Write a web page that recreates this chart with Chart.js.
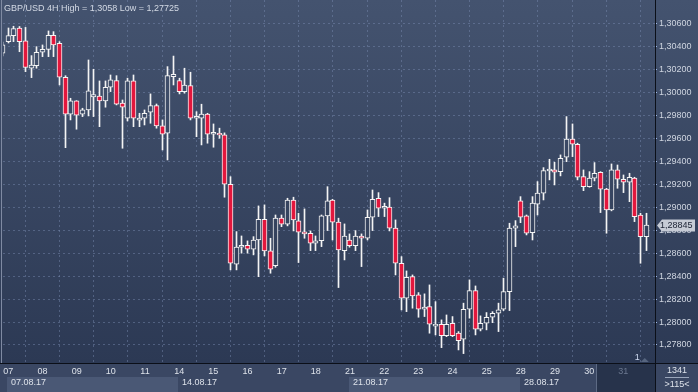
<!DOCTYPE html>
<html>
<head>
<meta charset="utf-8">
<script src="https://cdn.jsdelivr.net/npm/chart.js@4.4.1/dist/chart.umd.min.js"></script>
<style>
  html, body { margin: 0; padding: 0; background: #2d3a56; overflow: hidden; }
  #wrap { width: 698px; height: 392px; }
</style>
</head>
<body>
<div id="wrap"><canvas id="c" width="698" height="392"></canvas></div>
<script>
// GBP/USD 4H, bar index 0 = first bar of 07.08.17 (6 bars per day), first entry is bar -1
const FIRST_BAR = -1;
const opens = [
  1.30345, 1.30446, 1.30498, 1.30565, 1.30452, 1.30214, 1.30236, 1.30353, 1.30379, 1.30501,
  1.30432, 1.30135, 1.29813, 1.29929, 1.29813, 1.29850, 1.29963, 1.29972, 1.29929, 1.30048,
  1.30106, 1.29909, 1.29778, 1.30103, 1.29760, 1.29778, 1.29830, 1.29888, 1.29711, 1.29647,
  1.30140, 1.30106, 1.30010, 1.30062, 1.29778, 1.29778, 1.29813, 1.29638, 1.29647, 1.29632,
  1.29202, 1.28505, 1.28653, 1.28670, 1.28635, 1.28716, 1.28897, 1.28621, 1.28492, 1.28906,
  1.28853, 1.29065, 1.28882, 1.28786, 1.28775, 1.28688, 1.28710, 1.28926, 1.29065, 1.28871,
  1.28623, 1.28716, 1.28667, 1.28750, 1.28731, 1.28914, 1.29080, 1.28993, 1.29002, 1.28819,
  1.28513, 1.28208, 1.28396, 1.28237, 1.28112, 1.28135, 1.27965, 1.27981, 1.27882, 1.27990,
  1.27903, 1.27851, 1.28112, 1.28274, 1.27938, 1.27990, 1.28042, 1.28077, 1.28112, 1.28266,
  1.28819, 1.29057, 1.28926, 1.28780, 1.29028, 1.29124, 1.29318, 1.29327, 1.29312, 1.29438,
  1.29595, 1.29551, 1.29268, 1.29181, 1.29255, 1.29307, 1.29159, 1.28978, 1.29327, 1.29246,
  1.29220, 1.29255, 1.28934, 1.28745
];
const highs = [
  1.30443, 1.30565, 1.30580, 1.30578, 1.30570, 1.30324, 1.30402, 1.30417, 1.30539, 1.30533,
  1.30446, 1.30149, 1.29952, 1.29931, 1.29865, 1.30286, 1.30205, 1.30103, 1.30103, 1.30155,
  1.30149, 1.29937, 1.30127, 1.30155, 1.29821, 1.29850, 1.29990, 1.29902, 1.29763, 1.30228,
  1.30320, 1.30127, 1.30214, 1.30179, 1.29835, 1.29900, 1.29821, 1.29728, 1.29691, 1.29650,
  1.29268, 1.28789, 1.28751, 1.28708, 1.28745, 1.29013, 1.29022, 1.28731, 1.28934, 1.28934,
  1.29080, 1.29089, 1.28949, 1.28987, 1.28795, 1.28751, 1.28934, 1.29181, 1.29071, 1.28906,
  1.28856, 1.28769, 1.28798, 1.28769, 1.28978, 1.29152, 1.29129, 1.29037, 1.29085, 1.28891,
  1.28571, 1.28446, 1.28411, 1.28257, 1.28246, 1.28324, 1.28178, 1.28019, 1.28062, 1.28048,
  1.27917, 1.28165, 1.28368, 1.28315, 1.28054, 1.28083, 1.28091, 1.28165, 1.28383, 1.28862,
  1.28885, 1.29094, 1.28934, 1.29094, 1.29225, 1.29347, 1.29420, 1.29394, 1.29458, 1.29792,
  1.29728, 1.29560, 1.29327, 1.29312, 1.29391, 1.29312, 1.29167, 1.29379, 1.29370, 1.29283,
  1.29298, 1.29263, 1.28949, 1.28949
];
const lows = [
  1.30321, 1.30434, 1.30446, 1.30358, 1.30184, 1.30132, 1.30214, 1.30315, 1.30315, 1.30315,
  1.30068, 1.29521, 1.29763, 1.29682, 1.29792, 1.29798, 1.29792, 1.29704, 1.29874, 1.30010,
  1.29894, 1.29516, 1.29754, 1.29704, 1.29704, 1.29719, 1.29734, 1.29691, 1.29501, 1.29414,
  1.30068, 1.29990, 1.29996, 1.29763, 1.29617, 1.29545, 1.29560, 1.29525, 1.29603, 1.29089,
  1.28455, 1.28455, 1.28601, 1.28601, 1.28586, 1.28396, 1.28577, 1.28426, 1.28478, 1.28832,
  1.28839, 1.28795, 1.28519, 1.28731, 1.28623, 1.28623, 1.28658, 1.28798, 1.28716, 1.28301,
  1.28542, 1.28653, 1.28623, 1.28484, 1.28716, 1.28798, 1.28920, 1.28920, 1.28795, 1.28411,
  1.28106, 1.28091, 1.28121, 1.28042, 1.28048, 1.27903, 1.27888, 1.27777, 1.27873, 1.27873,
  1.27757, 1.27725, 1.28034, 1.27888, 1.27923, 1.27932, 1.27995, 1.27917, 1.28100, 1.28100,
  1.28658, 1.28867, 1.28760, 1.28716, 1.28934, 1.29065, 1.29240, 1.29196, 1.29275, 1.29399,
  1.29443, 1.29240, 1.29146, 1.29176, 1.29231, 1.28955, 1.28775, 1.28970, 1.29167, 1.29129,
  1.29050, 1.28876, 1.28513, 1.28623
];
const closes = [
  1.30417, 1.30498, 1.30560, 1.30446, 1.30222, 1.30242, 1.30353, 1.30379, 1.30501, 1.30417,
  1.30135, 1.29813, 1.29929, 1.29804, 1.29850, 1.30016, 1.29985, 1.29929, 1.30048, 1.30112,
  1.29900, 1.29874, 1.30103, 1.29778, 1.29780, 1.29821, 1.29888, 1.29711, 1.29638, 1.30149,
  1.30160, 1.30010, 1.30068, 1.29778, 1.29795, 1.29813, 1.29638, 1.29655, 1.29632, 1.29202,
  1.28513, 1.28653, 1.28670, 1.28635, 1.28716, 1.28897, 1.28621, 1.28461, 1.28906, 1.28853,
  1.29065, 1.28891, 1.28784, 1.28769, 1.28688, 1.28708, 1.28926, 1.29057, 1.28871, 1.28629,
  1.28751, 1.28667, 1.28751, 1.28731, 1.28914, 1.29071, 1.28993, 1.29010, 1.28819, 1.28513,
  1.28208, 1.28391, 1.28228, 1.28112, 1.28130, 1.27981, 1.27981, 1.27882, 1.27981, 1.27882,
  1.27838, 1.28112, 1.28274, 1.27938, 1.27990, 1.28042, 1.28077, 1.28106, 1.28266, 1.28819,
  1.28839, 1.28914, 1.28775, 1.29037, 1.29124, 1.29321, 1.29335, 1.29307, 1.29429, 1.29595,
  1.29551, 1.29263, 1.29181, 1.29255, 1.29298, 1.29159, 1.28978, 1.29327, 1.29246, 1.29220,
  1.29263, 1.28920, 1.28745, 1.28845
];
const dayLabels = ['07','08','09','10','11','14','15','16','17','18','21','22','23','24','25','28','29','30','31'];
const weekLabels = ['07.08.17','14.08.17','21.08.17','28.08.17'];
const title = 'GBP/USD 4H High = 1,3058 Low = 1,27725';
const barsCount = '1341';
const shownCount = '>115<';

const FONT = '"Liberation Sans", Arial, sans-serif';
const dayStarts = dayLabels.map((d, k) => k * 6);
const weekStarts = weekLabels.map((w, k) => k * 30);
const bars = opens.map((o, k) => ({ i: FIRST_BAR + k, o, h: highs[k], l: lows[k], c: closes[k] }));
const fmt = v => v.toFixed(5).replace('.', ',');

let grad;
function bgGrad(chart) {
  if (!grad) {
    grad = chart.ctx.createLinearGradient(0, 0, 0, 363);
    grad.addColorStop(0, '#44536f');
    grad.addColorStop(1, '#2c3954');
  }
  return grad;
}

// snap candles to whole pixels so wicks and bodies stay crisp
const snap = {
  id: 'snap',
  beforeDatasetsDraw(chart) {
    chart.data.datasets.forEach((ds, d) => {
      chart.getDatasetMeta(d).data.forEach(el => { el.x = Math.floor(el.x) + 0.5; });
    });
  }
};

const decor = {
  id: 'decor',
  beforeDraw(chart) {
    const ctx = chart.ctx, x = chart.scales.x;
    ctx.save();
    ctx.fillStyle = bgGrad(chart);
    ctx.fillRect(0, 0, 698, 363);
    ctx.fillStyle = '#3a4763';
    ctx.fillRect(0, 363, 698, 29);
    // week boxes
    weekStarts.forEach((s, k) => {
      const x0 = Math.round(x.getPixelForValue(s)) - 1;
      const x1 = k + 1 < weekStarts.length ? Math.round(x.getPixelForValue(weekStarts[k + 1])) - 1 : 597;
      if (k % 2 === 0) { ctx.fillStyle = '#4a5875'; ctx.fillRect(x0, 377, x1 - x0, 15); }
    });
    // current day block
    ctx.fillStyle = '#27334b';
    ctx.fillRect(597, 364, 58, 28);
    ctx.fillStyle = '#5d6a84';
    ctx.fillRect(596, 364, 1, 28);
    ctx.restore();
  },
  afterDraw(chart) {
    const ctx = chart.ctx, x = chart.scales.x, y = chart.scales.y;
    ctx.save();
    // frame
    ctx.strokeStyle = '#0b0f18';
    ctx.lineWidth = 1;
    ctx.beginPath();
    ctx.moveTo(0, 363.5); ctx.lineTo(698, 363.5);
    ctx.moveTo(655.5, 0); ctx.lineTo(655.5, 392);
    ctx.stroke();
    ctx.strokeStyle = '#7f8aa2';
    ctx.beginPath(); ctx.moveTo(1.5, 0); ctx.lineTo(1.5, 363); ctx.stroke();

    ctx.font = '9px ' + FONT;
    ctx.textBaseline = 'middle';
    // week labels
    ctx.fillStyle = '#dde2ea';
    ctx.textAlign = 'left';
    weekStarts.forEach((s, k) => {
      ctx.fillText(weekLabels[k], Math.round(x.getPixelForValue(s)) + 3, 383);
    });
    // title
    ctx.fillStyle = '#d3d9e4';
    ctx.textBaseline = 'alphabetic';
    ctx.fillText(title, 4, 11);
    // bar counters
    ctx.textAlign = 'center';
    ctx.textBaseline = 'middle';
    ctx.fillStyle = '#dde2ea';
    ctx.fillText(barsCount, 677, 371);
    ctx.fillText(shownCount, 677, 385);
    ctx.strokeStyle = '#9aa6bb';
    ctx.beginPath(); ctx.moveTo(665, 377.5); ctx.lineTo(689, 377.5); ctx.stroke();
    // marker
    const mx = x.getPixelForValue(110);
    ctx.textAlign = 'left';
    ctx.fillStyle = '#cfdaf0';
    ctx.fillText('1', mx, 358);
    ctx.fillStyle = '#56657f';
    ctx.beginPath(); ctx.moveTo(mx + 6, 362); ctx.lineTo(mx + 14, 362); ctx.lineTo(mx + 10, 358); ctx.closePath(); ctx.fill();
    // last price tag
    const last = closes[closes.length - 1];
    const py = Math.round(y.getPixelForValue(last));
    ctx.fillStyle = '#c6cbd5';
    ctx.beginPath();
    ctx.moveTo(657, py + 0.5); ctx.lineTo(662, py - 5.5); ctx.lineTo(695, py - 5.5);
    ctx.lineTo(695, py + 6.5); ctx.lineTo(662, py + 6.5); ctx.closePath(); ctx.fill();
    ctx.fillStyle = '#1b2233';
    ctx.fillText(fmt(last), 660, py + 1);
    ctx.restore();
  }
};

new Chart(document.getElementById('c'), {
  type: 'bar',
  data: {
    datasets: [
      {
        label: 'wick',
        data: bars.map(b => ({ x: b.i, y: [b.l, b.h] })),
        backgroundColor: '#f4f4f4',
        borderWidth: 0,
        barThickness: 1,
        grouped: false,
        clip: 0,
        order: 2
      },
      {
        label: 'body',
        data: bars.map(b => ({ x: b.i, y: [b.o, b.c] })),
        backgroundColor: c => {
          const b = bars[c.dataIndex];
          return b && b.c >= b.o ? bgGrad(c.chart) : '#e3173d';
        },
        borderColor: '#f4f4f4',
        borderWidth: 1,
        borderSkipped: false,
        barThickness: 5,
        grouped: false,
        clip: 0,
        order: 1
      }
    ]
  },
  options: {
    responsive: false,
    animation: false,
    events: [],
    layout: { padding: { left: 3, right: 0, top: 0, bottom: 0 } },
    plugins: { legend: { display: false }, tooltip: { enabled: false } },
    scales: {
      x: {
        type: 'linear',
        position: 'bottom',
        min: -0.93,
        max: 113.56,
        offset: false,
        afterBuildTicks: s => { s.ticks = dayStarts.map(v => ({ value: v })); },
        afterFit: s => { s.height = 29; s.paddingLeft = 0; s.paddingRight = 0; },
        ticks: {
          autoSkip: false,
          maxRotation: 0,
          padding: 3,
          font: { family: FONT, size: 9 },
          color: c => (c.tick && c.tick.value === 108 ? '#6b7890' : '#dde2ea'),
          callback: (v, k) => dayLabels[k]
        },
        grid: { color: 'rgba(125,143,180,0.45)', drawTicks: false },
        border: { display: false, dash: [2, 3] }
      },
      y: {
        type: 'linear',
        position: 'right',
        min: 1.27643,
        max: 1.30809,
        afterBuildTicks: s => { s.ticks = s.ticks.filter(t => t.value < 1.3065 && t.value > 1.2775); },
        afterFit: s => { s.width = 43; s.paddingTop = 0; s.paddingBottom = 0; },
        ticks: {
          stepSize: 0.002,
          includeBounds: false,
          padding: 2,
          font: { family: FONT, size: 9 },
          color: '#cfd5e0',
          callback: v => fmt(v)
        },
        grid: { color: 'rgba(125,143,180,0.45)', tickColor: '#9fb8e6', tickLength: 2 },
        border: { display: false, dash: [2, 3] }
      }
    }
  },
  plugins: [snap, decor]
});
</script>
</body>
</html>
